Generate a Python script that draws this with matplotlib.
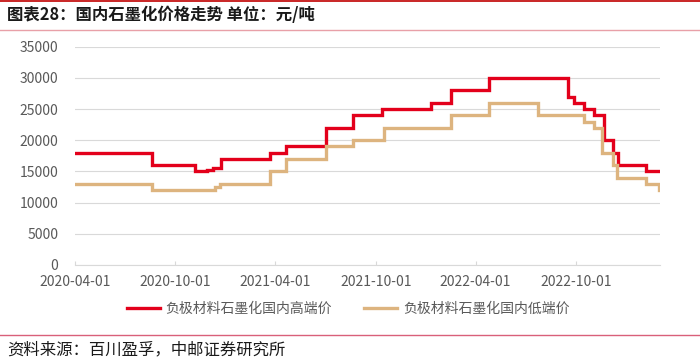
import numpy as np
import matplotlib
matplotlib.use("Agg")
import matplotlib.pyplot as plt
import matplotlib.dates as mdates
from matplotlib.lines import Line2D

plt.rcParams['font.family'] = ['Noto Sans CJK SC', 'DejaVu Sans']

title = "图表28：国内石墨化价格走势 单位：元/吨"
source = "资料来源：百川盈孚，中邮证券研究所"
series_high_name = "负极材料石墨化国内高端价"
series_low_name = "负极材料石墨化国内低端价"

high_dates = ["2020-04-01", "2020-08-19", "2020-11-06", "2020-11-27", "2020-12-09",
              "2020-12-23", "2021-03-22", "2021-04-20", "2021-07-02", "2021-08-20",
              "2021-10-12", "2022-01-09", "2022-02-15", "2022-04-26", "2022-09-17",
              "2022-09-28", "2022-10-16", "2022-11-03", "2022-11-21", "2022-12-07",
              "2022-12-17", "2023-02-05", "2023-03-03"]
high_values = [18000, 16000, 15000, 15200, 15500,
               17000, 18000, 19000, 22000, 24000,
               25000, 26000, 28000, 30000, 27000,
               26000, 25000, 24000, 20000, 18000,
               16000, 15000, 15000]

low_dates = ["2020-04-01", "2020-08-19", "2020-12-12", "2020-12-22", "2021-03-22",
             "2021-04-20", "2021-07-02", "2021-08-20", "2021-10-16", "2022-02-16",
             "2022-04-26", "2022-07-23", "2022-10-16", "2022-11-03", "2022-11-17",
             "2022-12-07", "2022-12-15", "2023-02-05", "2023-03-01", "2023-03-03"]
low_values = [13000, 12000, 12500, 13000, 15000,
              17000, 19000, 20000, 22000, 24000,
              26000, 24000, 23000, 22000, 18000,
              16000, 14000, 13000, 12000, 12000]

x_ticks = ["2020-04-01", "2020-10-01", "2021-04-01", "2021-10-01", "2022-04-01", "2022-10-01"]
y_ticks = [0, 5000, 10000, 15000, 20000, 25000, 30000, 35000]

RED = "#E3001B"
TAN = "#DDB47F"
GRAY = "#595959"

fig = plt.figure(figsize=(7.0, 3.61), dpi=100)
ax = fig.add_axes([75/700, 1-265/361, (660-75)/700, (265-46.7)/361])

hd = np.array(high_dates, dtype="datetime64[D]")
ld = np.array(low_dates, dtype="datetime64[D]")
ax.step(hd, high_values, where="post", color=RED, lw=2.4, solid_joinstyle="miter")
ax.step(ld, low_values, where="post", color=TAN, lw=2.4, solid_joinstyle="miter")

ax.set_xlim(np.datetime64("2020-04-01"), np.datetime64("2023-03-03"))
ax.set_ylim(0, 35000)
ax.set_yticks(y_ticks)
ax.set_yticklabels([str(v) for v in y_ticks])
ax.set_xticks(np.array(x_ticks, dtype="datetime64[D]"))
ax.set_xticklabels(x_ticks)

ax.grid(axis="y", color="#D9D9D9", lw=0.8)
ax.set_axisbelow(True)
for s in ["top", "right", "left"]:
    ax.spines[s].set_visible(False)
ax.spines["bottom"].set_color("#D9D9D9")
ax.spines["bottom"].set_linewidth(0.8)
ax.tick_params(axis="y", length=0, pad=12, labelsize=10, labelcolor=GRAY)
ax.tick_params(axis="x", direction="in", length=3, color="#D9D9D9", pad=7,
               labelsize=10, labelcolor=GRAY)

# legend
handles = [Line2D([], [], color=RED, lw=2.4), Line2D([], [], color=TAN, lw=2.4)]
fig.legend(handles, [series_high_name, series_low_name], loc="center",
           bbox_to_anchor=(0.497, 1-309/361), ncol=2, frameon=False,
           fontsize=10, handlelength=2.4, handletextpad=0.4, columnspacing=2.3,
           labelcolor=GRAY)

# title and decorations
fig.text(7/700, 1-15/361, title, fontsize=11.8, fontweight="bold", color="#1a1a1a",
         ha="left", va="center")
fig.add_artist(Line2D([0, 1], [1-0.8/361, 1-0.8/361], color="#C00000", lw=1.2,
                      transform=fig.transFigure))
fig.add_artist(Line2D([0, 1], [1-30/361, 1-30/361], color="#E8A0A8", lw=1.0,
                      transform=fig.transFigure))
fig.add_artist(Line2D([0, 1], [1-335/361, 1-335/361], color="#D9607A", lw=1.0,
                      transform=fig.transFigure))
fig.text(7/700, 1-350/361, source, fontsize=11.8, color="#1a1a1a", ha="left", va="center")

fig.savefig("out.png", dpi=100)
